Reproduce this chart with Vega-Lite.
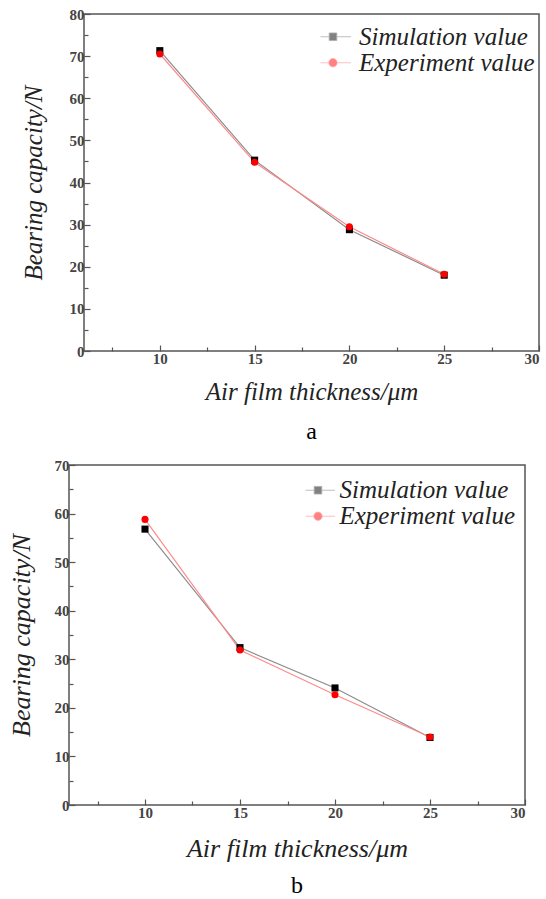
{
  "$schema": "https://vega.github.io/schema/vega-lite/v6.json",
  "padding": {"left": 6, "top": 6, "right": 0, "bottom": 0},
  "background": "white",
  "datasets": {
    "a": [
      {"thickness": 10, "capacity": 71.3, "series": "Simulation value"},
      {"thickness": 15, "capacity": 45.3, "series": "Simulation value"},
      {"thickness": 20, "capacity": 28.8, "series": "Simulation value"},
      {"thickness": 25, "capacity": 18.0, "series": "Simulation value"},
      {"thickness": 10, "capacity": 70.5, "series": "Experiment value"},
      {"thickness": 15, "capacity": 44.8, "series": "Experiment value"},
      {"thickness": 20, "capacity": 29.5, "series": "Experiment value"},
      {"thickness": 25, "capacity": 18.2, "series": "Experiment value"}
    ],
    "b": [
      {"thickness": 10, "capacity": 56.8, "series": "Simulation value"},
      {"thickness": 15, "capacity": 32.4, "series": "Simulation value"},
      {"thickness": 20, "capacity": 24.1, "series": "Simulation value"},
      {"thickness": 25, "capacity": 13.9, "series": "Simulation value"},
      {"thickness": 10, "capacity": 58.8, "series": "Experiment value"},
      {"thickness": 15, "capacity": 31.9, "series": "Experiment value"},
      {"thickness": 20, "capacity": 22.7, "series": "Experiment value"},
      {"thickness": 25, "capacity": 14.0, "series": "Experiment value"}
    ]
  },
  "config": {
    "view": {"stroke": "#555", "strokeWidth": 1.5},
    "axis": {
      "domain": false,
      "grid": false,
      "labelFont": "Liberation Serif",
      "labelFontWeight": "bold",
      "labelFontSize": 15,
      "labelColor": "#444",
      "titleFont": "Liberation Serif",
      "titleFontStyle": "italic",
      "titleFontWeight": "normal",
      "titleFontSize": 25,
      "titleColor": "#222",
      "tickColor": "#555",
      "tickWidth": 1.2
    },
    "legend": {
      "orient": "none",
      "padding": 0,
      "labelFont": "Liberation Serif",
      "labelFontStyle": "italic",
      "labelFontSize": 25,
      "labelColor": "#222",
      "labelLimit": 400,
      "symbolSize": 400,
      "symbolStrokeWidth": 0.8,
      "clipHeight": 23.5,
      "rowPadding": 0
    },
    "title": {"font": "Liberation Serif", "fontSize": 24, "fontWeight": "normal", "color": "#000", "orient": "bottom"}
  },
  "columns": 1,
  "spacing": 12,
  "resolve": {"scale": {"fill": "independent", "shape": "independent", "stroke": "independent"}},
  "concat": [
    {
      "spacing": 0,
      "resolve": {"scale": {"fill": "independent", "shape": "independent", "stroke": "independent"}},
      "hconcat": [
        {
          "width": 14,
          "height": 337,
          "data": {"values": [{}]},
          "mark": {"type": "text"},
          "encoding": {"text": {"value": ""}},
          "view": {"stroke": null}
        },
        {
          "width": 455,
          "height": 337,
          "data": {"name": "a"},
          "title": {"text": "a", "orient": "bottom", "offset": 16},
          "encoding": {
            "x": {
              "field": "thickness", "type": "quantitative",
              "scale": {"domain": [6, 30], "nice": false, "zero": false},
              "axis": {
                "title": "Air film thickness/μm",
                "values": [7.5, 10, 12.5, 15, 17.5, 20, 22.5, 25, 27.5, 30],
                "labelExpr": "datum.value % 5 === 0 ? datum.label : ''",
                "tickSize": {"condition": {"test": "datum.value % 5 === 0", "value": -6}, "value": -4},
                "labelPadding": 6,
                "titlePadding": 13
              }
            },
            "y": {
              "field": "capacity", "type": "quantitative",
              "scale": {"domain": [0, 80], "nice": false},
              "axis": {
                "title": "Bearing capacity/N",
                "values": [0, 5, 10, 15, 20, 25, 30, 35, 40, 45, 50, 55, 60, 65, 70, 75, 80],
                "labelExpr": "datum.value % 10 === 0 ? datum.label : ''",
                "tickSize": {"condition": {"test": "datum.value % 10 === 0", "value": -6}, "value": -4},
                "labelPadding": 6,
                "titlePadding": 23
              }
            }
          },
          "layer": [
            {
              "transform": [{"filter": "datum.series === 'Simulation value'"}],
              "mark": {"type": "line", "strokeWidth": 1.2, "color": "#8c8c8c"},
              "encoding": {}
            },
            {
              "transform": [{"filter": "datum.series === 'Experiment value'"}],
              "mark": {"type": "line", "strokeWidth": 1.2, "color": "#ff8a8a"},
              "encoding": {}
            },
            {
              "transform": [{"filter": "datum.series === 'Simulation value'"}],
              "mark": {"type": "point", "filled": true, "size": 50, "opacity": 1, "shape": "square", "color": "#000000"},
              "encoding": {}
            },
            {
              "transform": [{"filter": "datum.series === 'Experiment value'"}],
              "mark": {"type": "point", "filled": true, "size": 50, "opacity": 1, "shape": "circle", "color": "#ff0000"},
              "encoding": {}
            },
            {
              "transform": [{"filter": "false"}],
              "mark": {"type": "point", "filled": true, "strokeWidth": 0.8},
              "encoding": {
                "fill": {
                  "field": "series", "type": "nominal",
                  "scale": {"domain": ["Simulation value", "Experiment value"], "range": ["#000000", "#ff0000"]},
                  "legend": {"title": null, "legendX": 236.5, "legendY": 11, "labelOffset": 13.5}
                },
                "stroke": {
                  "field": "series", "type": "nominal",
                  "scale": {"domain": ["Simulation value", "Experiment value"], "range": ["#8c8c8c", "#ff8a8a"]},
                  "legend": {"title": null, "legendX": 236.5, "legendY": 11, "labelOffset": 13.5}
                },
                "shape": {
                  "field": "series", "type": "nominal",
                  "scale": {"domain": ["Simulation value", "Experiment value"], "range": ["M-1.8,0H-0.38M0.38,0H1.8M-0.38,-0.38H0.38V0.38H-0.38Z", "M-1.8,0H-0.42M0.42,0H1.8M-0.42,0A0.42,0.42,0,1,0,0.42,0A0.42,0.42,0,1,0,-0.42,0Z"]},
                  "legend": {"title": null, "legendX": 236.5, "legendY": 11, "labelOffset": 13.5}
                }
              }
            }
          ]
        }
      ]
    },
    {
      "spacing": 0,
      "resolve": {"scale": {"fill": "independent", "shape": "independent", "stroke": "independent"}},
      "hconcat": [
        {
          "width": 1,
          "height": 340,
          "data": {"values": [{}]},
          "mark": {"type": "text"},
          "encoding": {"text": {"value": ""}},
          "view": {"stroke": null}
        },
        {
          "width": 456,
          "height": 340,
          "data": {"name": "b"},
          "title": {"text": "b", "orient": "bottom", "offset": 13},
          "encoding": {
            "x": {
              "field": "thickness", "type": "quantitative",
              "scale": {"domain": [6, 30], "nice": false, "zero": false},
              "axis": {
                "title": "Air film thickness/μm",
                "titleFontSize": 26,
                "values": [7.5, 10, 12.5, 15, 17.5, 20, 22.5, 25, 27.5, 30],
                "labelExpr": "datum.value % 5 === 0 ? datum.label : ''",
                "tickSize": {"condition": {"test": "datum.value % 5 === 0", "value": -6}, "value": -4},
                "labelPadding": 6,
                "titlePadding": 15
              }
            },
            "y": {
              "field": "capacity", "type": "quantitative",
              "scale": {"domain": [0, 70], "nice": false},
              "axis": {
                "title": "Bearing capacity/N",
                "titleFontSize": 26,
                "values": [0, 5, 10, 15, 20, 25, 30, 35, 40, 45, 50, 55, 60, 65, 70],
                "labelExpr": "datum.value % 10 === 0 ? datum.label : ''",
                "tickSize": {"condition": {"test": "datum.value % 10 === 0", "value": -6}, "value": -4},
                "labelPadding": 6,
                "titlePadding": 20
              }
            }
          },
          "layer": [
            {
              "transform": [{"filter": "datum.series === 'Simulation value'"}],
              "mark": {"type": "line", "strokeWidth": 1.2, "color": "#8c8c8c"},
              "encoding": {}
            },
            {
              "transform": [{"filter": "datum.series === 'Experiment value'"}],
              "mark": {"type": "line", "strokeWidth": 1.2, "color": "#ff8a8a"},
              "encoding": {}
            },
            {
              "transform": [{"filter": "datum.series === 'Simulation value'"}],
              "mark": {"type": "point", "filled": true, "size": 50, "opacity": 1, "shape": "square", "color": "#000000"},
              "encoding": {}
            },
            {
              "transform": [{"filter": "datum.series === 'Experiment value'"}],
              "mark": {"type": "point", "filled": true, "size": 50, "opacity": 1, "shape": "circle", "color": "#ff0000"},
              "encoding": {}
            },
            {
              "transform": [{"filter": "false"}],
              "mark": {"type": "point", "filled": true, "strokeWidth": 0.8},
              "encoding": {
                "fill": {
                  "field": "series", "type": "nominal",
                  "scale": {"domain": ["Simulation value", "Experiment value"], "range": ["#000000", "#ff0000"]},
                  "legend": {"title": null, "legendX": 236.5, "legendY": 13.5, "labelOffset": 9}
                },
                "stroke": {
                  "field": "series", "type": "nominal",
                  "scale": {"domain": ["Simulation value", "Experiment value"], "range": ["#8c8c8c", "#ff8a8a"]},
                  "legend": {"title": null, "legendX": 236.5, "legendY": 13.5, "labelOffset": 9}
                },
                "shape": {
                  "field": "series", "type": "nominal",
                  "scale": {"domain": ["Simulation value", "Experiment value"], "range": ["M-1.7,0H-0.38M0.38,0H1.7M-0.38,-0.38H0.38V0.38H-0.38Z", "M-1.7,0H-0.42M0.42,0H1.7M-0.42,0A0.42,0.42,0,1,0,0.42,0A0.42,0.42,0,1,0,-0.42,0Z"]},
                  "legend": {"title": null, "legendX": 236.5, "legendY": 13.5, "labelOffset": 9}
                }
              }
            }
          ]
        }
      ]
    }
  ]
}
